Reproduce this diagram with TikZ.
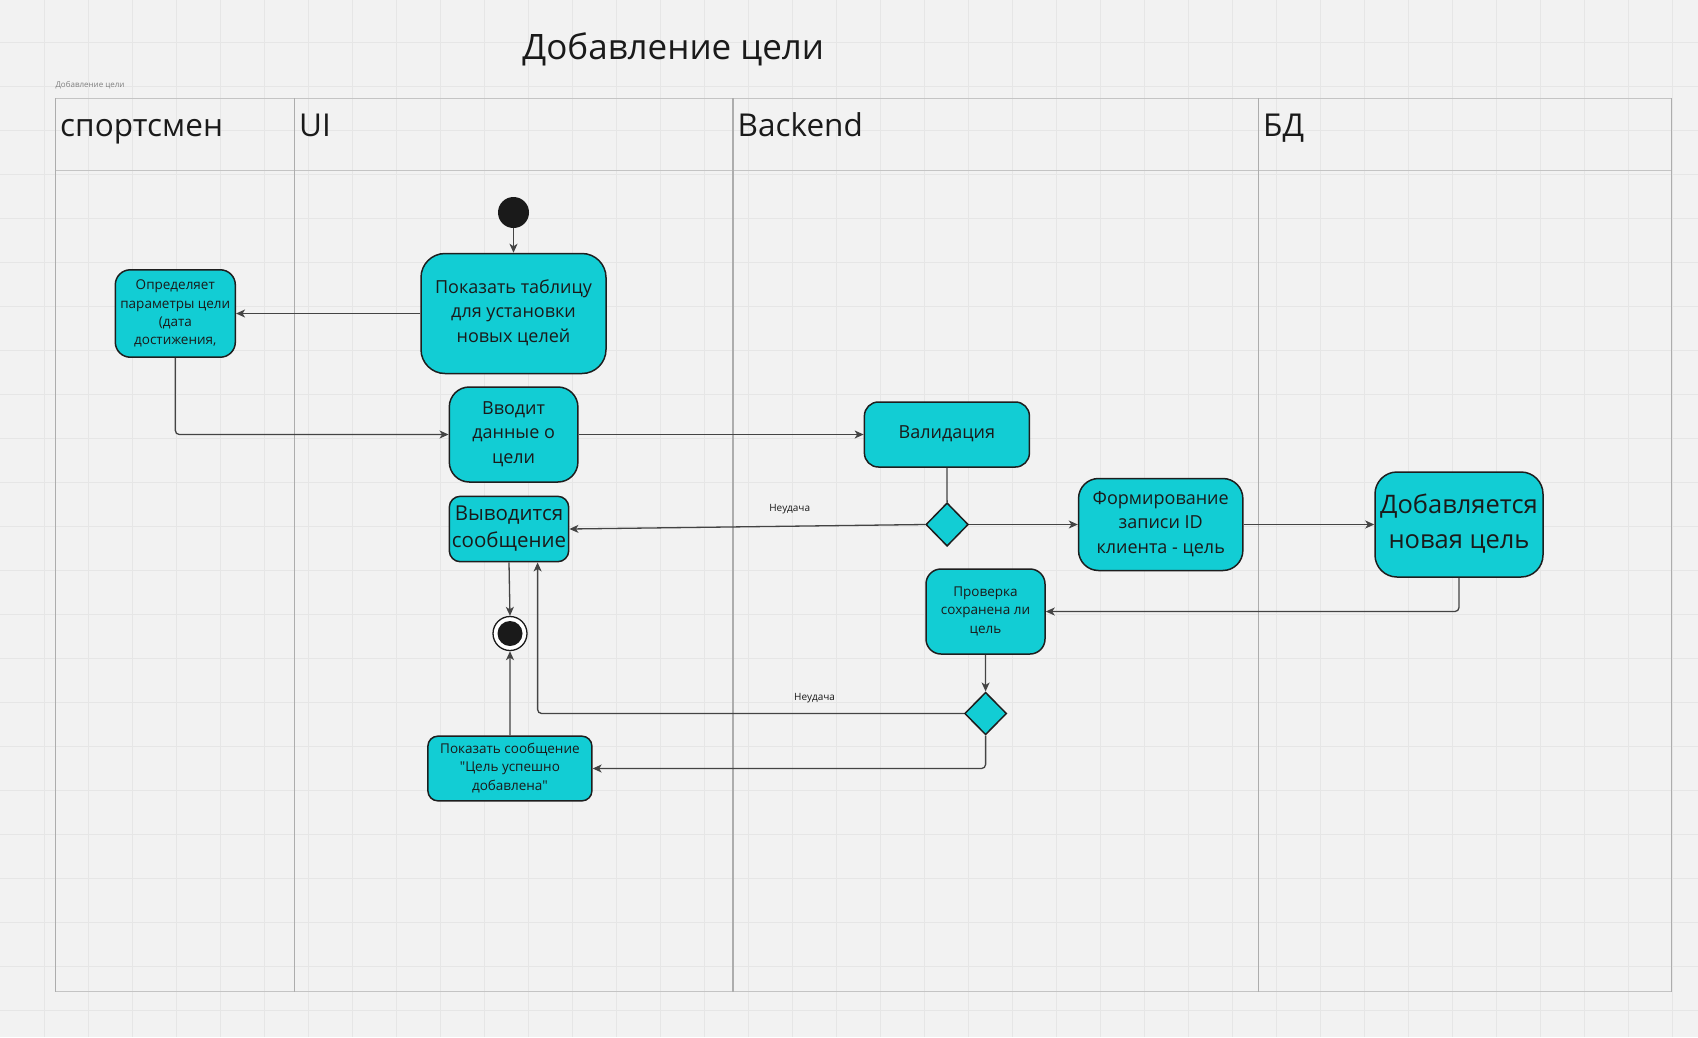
\documentclass[tikz,border=0pt]{standalone}
\usepackage{fontspec}
\setmainfont{Open Sans}
\newfontfamily\qfont{Open Sans}
\usetikzlibrary{arrows.meta,shapes.geometric}
\definecolor{bgc}{HTML}{F2F2F2}
\definecolor{gridc}{HTML}{E6E6E6}
\definecolor{lanev}{HTML}{ADADAD}
\definecolor{laneh}{HTML}{C4C4C4}
\definecolor{actfill}{HTML}{12CDD4}
\definecolor{edgec}{HTML}{1E1E1E}
\definecolor{connc}{HTML}{444444}
\definecolor{txtc}{HTML}{1A1A1A}
\newcommand\myStrut{\rule[-0.293em]{0pt}{1.069em}}
\tikzset{
  act/.style={rectangle, draw=edgec, line width=1.5pt, fill=actfill, align=center, inner sep=0pt, text=txtc},
  dec/.style={diamond, aspect=1, draw=edgec, line width=1.5pt, fill=actfill, inner sep=0pt},
  conn/.style={draw=connc, line width=1.3pt, -{Stealth[length=9pt,width=8pt,inset=2.5pt]}},
  plain/.style={draw=connc, line width=1.3pt},
  lbl/.style={font=\fontsize{10}{12}\selectfont, text=txtc, inner sep=0pt},
  lanehdr/.style={font=\fontsize{31.5}{38}\selectfont, text=txtc, inner sep=0pt, anchor=base west},
  fA/.style={font=\fontsize{18}{24.7}\selectfont},
  fB/.style={font=\fontsize{13.5}{18.3}\selectfont},
}
\begin{document}
\begin{tikzpicture}[x=1pt,y=-1pt]
\useasboundingbox (0,0) rectangle (1698,1037);
\fill[bgc] (0,0) rectangle (1698,1037);
\foreach \i in {1,...,38} \draw[gridc, line width=1pt] (44*\i,0) -- (44*\i,1037);
\foreach \j in {1,...,23} \draw[gridc, line width=1pt] (0,44*\j-1.3) -- (1698,44*\j-1.3);
% swimlane frame
\draw[laneh, line width=1.5pt] (55.3,98.3) -- (1671.3,98.3);
\draw[laneh, line width=1.5pt] (55.3,170.7) -- (1671.3,170.7);
\draw[laneh, line width=1.5pt] (55.3,991.7) -- (1671.3,991.7);
\foreach \x in {55.3,294.3,733.1,1258.7,1671.3} \draw[lanev, line width=1.5pt] (\x,98.3) -- (\x,991.7);
% titles
\node[font=\fontsize{35}{42}\selectfont, text=txtc, inner sep=0pt, anchor=base] (title) at (673.3,59.3) {Добавление цели};
\node[font=\fontsize{8}{9}\selectfont, text=gray, inner sep=0pt, anchor=base west] (frametitle) at (55.3,87.7) {Добавление цели};
\node[lanehdr] (h1) at (60,136) {спортсмен};
\node[lanehdr] (h2) at (299,136) {UI};
\node[lanehdr] (h3) at (737.5,136) {Backend};
\node[lanehdr] (h4) at (1263,136) {БД};
% nodes
\node[circle, fill=txtc, minimum size=31pt, inner sep=0pt] (start) at (513.5,212.5) {};
\node[act, fA, rounded corners=24pt, minimum width=185pt, minimum height=120pt] (show) at (513.5,313.5) {\myStrut Показать таблицу\\для установки\\новых целей\myStrut};
\node[act, fB, rounded corners=15pt, minimum width=120pt, minimum height=87.4pt] (def) at (175.3,313.5) {Определяет\\параметры цели\\(дата\\достижения,};
\node[act, fA, rounded corners=20pt, minimum width=128.6pt, minimum height=95pt] (enter) at (513.6,434.5) {\myStrut Вводит\\данные о\\цели\myStrut};
\node[act, fA, rounded corners=14pt, minimum width=165pt, minimum height=65pt] (valid) at (946.9,434.5) {\myStrut Валидация};
\node[dec, minimum width=42.4pt, minimum height=43.4pt] (d1) at (947.1,524.5) {};
\node[act, fA, rounded corners=20pt, minimum width=164.3pt, minimum height=92pt] (form) at (1160.7,524.5) {\myStrut Формирование\\записи ID\\клиента - цель\myStrut};
\node[act, font=\fontsize{25.5}{35}\selectfont, rounded corners=22pt, minimum width=168pt, minimum height=105pt] (add) at (1459,524.5) {\myStrut Добавляется\\новая цель\myStrut};
\node[act, fB, rounded corners=15pt, minimum width=119pt, minimum height=85pt] (check) at (985.5,611.5) {\myStrut Проверка\\сохранена ли\\цель\myStrut};
\node[dec, minimum width=42pt, minimum height=42.6pt] (d2) at (985.6,713.5) {};
\node[act, font=\fontsize{20.5}{27.7}\selectfont, rounded corners=11pt, minimum width=119.4pt, minimum height=65.4pt] (msg) at (509,529) {\myStrut Выводится\\сообщение\myStrut};
\node[circle, draw=txtc, line width=1.3pt, fill=white, minimum size=34pt, inner sep=0pt] (endc) at (510,633.5) {};
\node[circle, fill=txtc, minimum size=25pt, inner sep=0pt] (endin) at (endc) {};
\node[act, font=\qfont\fontsize{13.5}{18.3}\selectfont, rounded corners=10pt, minimum width=164pt, minimum height=64.7pt] (okmsg) at (509.9,768.5) {\myStrut Показать сообщение\\"Цель успешно\\добавлена"\myStrut};
% labels
\node[lbl] (l1) at (789.7,509) {Неудача};
\node[lbl] (l2) at (814.6,698) {Неудача};
% connectors
\draw[conn] (start) -- (show);
\draw[conn] (show.west) -- (def.east);
\draw[conn, rounded corners=4pt] (def.south) |- (enter.west);
\draw[conn] (enter.east) -- (valid.west);
\draw[plain] (valid.south) -- (d1.north);
\draw[conn] (d1.east) -- (form.west);
\draw[conn] (d1.west) -- (msg.east);
\draw[conn] (form.east) -- (add.west);
\draw[conn, rounded corners=4pt] (add.south) |- (check.east);
\draw[conn] (check.south) -- (d2.north);
\draw[conn, rounded corners=4pt] (d2.west) -| ([xshift=28.6pt]msg.south);
\draw[conn, rounded corners=4pt] (d2.south) |- (okmsg.east);
\draw[conn] (msg.south) -- (endc.north);
\draw[conn] (okmsg.north) -- (endc.south);
\end{tikzpicture}
\end{document}
